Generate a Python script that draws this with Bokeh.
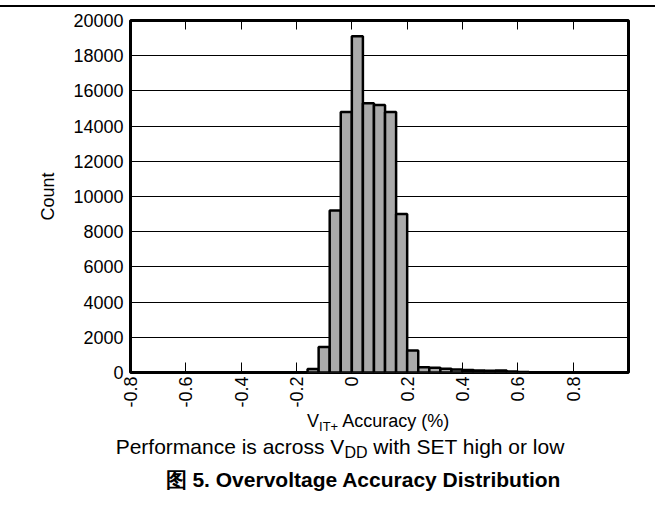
import math
from bokeh.plotting import figure
from bokeh.models import Range1d, FixedTicker, LinearAxis, Div, ColumnDataSource
from bokeh.layouts import column
from bokeh.embed import file_html
from bokeh.resources import INLINE

# ---- data ----
bin_starts = [-0.16, -0.12, -0.08, -0.04, 0.00, 0.04, 0.08, 0.12, 0.16, 0.20,
              0.24, 0.28, 0.32, 0.36, 0.40, 0.44, 0.48, 0.52, 0.56, 0.60]
bin_width = 0.04
counts = [200, 1450, 9200, 14800, 19100, 15300, 15200, 14800, 9000, 1250,
          300, 270, 220, 170, 140, 110, 100, 110, 60, 30]

x_ticks = [-0.8, -0.6, -0.4, -0.2, 0, 0.2, 0.4, 0.6, 0.8]
x_tick_labels = ["-0.8", "-0.6", "-0.4", "-0.2", "0", "0.2", "0.4", "0.6", "0.8"]
y_ticks = [0, 2000, 4000, 6000, 8000, 10000, 12000, 14000, 16000, 18000, 20000]

y_title = "Count"
x_title_main, x_title_sub, x_title_rest = "V", "IT+", "Accuracy (%)"
note_main, note_sub, note_rest = "Performance is across V", "DD", "with SET high or low"
caption = "图 5. Overvoltage Accuracy Distribution"

FONT = "Liberation Sans"
W = 655
RULE_TOP = 5          # page y of the horizontal rule
MAIN_TOP = 7          # page y where the chart figure starts
MAIN_BOTTOM = 412     # page y where the chart figure ends
TEXT_TOP = 380        # page y where the overlaid text block starts
PAGE_H = 492

p = figure(width=W, height=MAIN_BOTTOM - MAIN_TOP,
           x_range=Range1d(-0.8, 1.0), y_range=Range1d(0, 20000),
           output_backend="svg", toolbar_location=None,
           min_border_left=130, min_border_right=W - 628,
           min_border_top=20 - MAIN_TOP,
           min_border_bottom=(MAIN_BOTTOM - MAIN_TOP) - (20 - MAIN_TOP) - 352)
p.background_fill_color = "white"
p.border_fill_color = "white"
p.outline_line_color = "black"
p.outline_line_width = 3

src = ColumnDataSource(dict(left=bin_starts,
                            right=[b + bin_width for b in bin_starts],
                            top=counts))
p.quad(left="left", right="right", top="top", bottom=0, source=src,
       fill_color="#aaaaaa", line_color="black", line_width=2.5)

# grids
p.xgrid.visible = False
p.ygrid.ticker = FixedTicker(ticks=y_ticks)
p.ygrid.grid_line_color = "black"
p.ygrid.grid_line_width = 1
p.ygrid.level = "underlay"

# bottom axis
xa = p.xaxis[0]
xa.ticker = FixedTicker(ticks=x_ticks)
xa.major_label_overrides = {t: l for t, l in zip(x_ticks, x_tick_labels)}
xa.major_label_orientation = math.pi / 2
xa.major_label_text_font = FONT
xa.major_label_text_font_size = "18px"
xa.major_label_text_color = "black"
xa.major_label_standoff = 4
xa.major_tick_in = 10
xa.major_tick_out = 0
xa.major_tick_line_color = "black"
xa.minor_tick_in = 0
xa.minor_tick_out = 0
xa.axis_line_color = None

# left axis
ya = p.yaxis[0]
ya.ticker = FixedTicker(ticks=y_ticks)
ya.major_tick_in = 0
ya.major_tick_out = 0
ya.minor_tick_in = 0
ya.minor_tick_out = 0
ya.axis_line_color = None
ya.major_label_text_font = FONT
ya.major_label_text_font_size = "18px"
ya.major_label_text_color = "black"
ya.major_label_standoff = 7
ya.axis_label = y_title
ya.axis_label_text_font = FONT
ya.axis_label_text_font_size = "18px"
ya.axis_label_text_font_style = "normal"
ya.axis_label_text_color = "black"
ya.axis_label_standoff = 12

# top ticks (no labels)
top = LinearAxis(ticker=FixedTicker(ticks=x_ticks), major_tick_in=9, major_tick_out=0,
                 minor_tick_in=0, minor_tick_out=0, axis_line_color=None,
                 major_tick_line_color="black",
                 major_label_overrides={t: "" for t in x_ticks},
                 major_label_standoff=0)
p.add_layout(top, "above")

# ---- text block under the chart (HTML, overlaid on the lower border) ----
TH = PAGE_H - TEXT_TOP
ASC = 0.8465  # baseline offset (em) inside a line box with line-height = font size


def line(html, left, baseline, size, bold=False, center=None):
    topy = baseline - TEXT_TOP - ASC * size
    weight = "bold" if bold else "normal"
    if center is not None:
        box = f"left:{center - 320}px;width:640px;text-align:center;"
    else:
        box = f"left:{left}px;"
    return (f'<div style="position:absolute;{box}top:{topy:.1f}px;white-space:nowrap;'
            f'font-size:{size}px;line-height:{size}px;font-weight:{weight};">{html}</div>')


def sub(s, size, drop):
    return (f'<span style="font-size:{size}px;line-height:0;position:relative;'
            f'top:{drop}px;">{s}</span>')


blocks = [
    line(x_title_main + sub(x_title_sub, 13, 4) + " " + x_title_rest, 307, 427, 18),
    line(note_main + sub(note_sub, 16, 4) + " " + note_rest, 0, 454, 21, center=340),
    line(caption, 0, 487, 21, bold=True, center=363),
]
html = (f'<div style="position:relative;width:{W}px;height:{TH}px;'
        f"font-family:'{FONT}';color:#000;\">" + "".join(blocks) + "</div>")

texts = Div(text=html, width=W, height=TH, margin=(TEXT_TOP - MAIN_BOTTOM, 0, 0, 0))

rule = Div(text="", width=W, height=2, margin=(RULE_TOP, 0, 0, 0),
           styles={"background-color": "black"})

layout = column(rule, p, texts, spacing=0)
open("out.html", "w").write(file_html(layout, INLINE))
